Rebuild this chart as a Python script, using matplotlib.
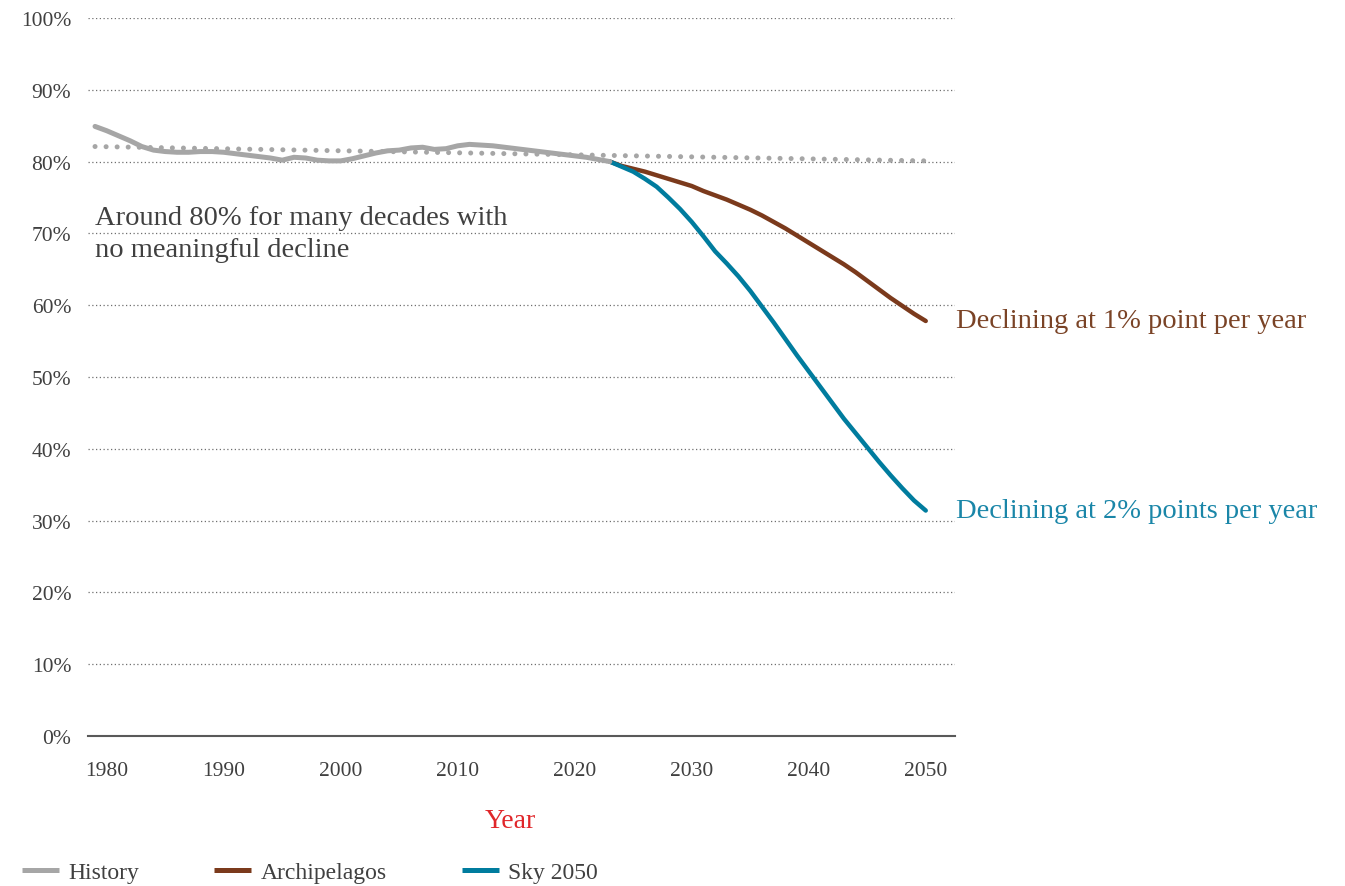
"""Share staying around 80% historically vs. two decline scenarios to 2050."""

import matplotlib.pyplot as plt
from matplotlib.ticker import FuncFormatter

plt.rcParams["font.family"] = ["Liberation Serif", "DejaVu Serif"]

# history
hist_years = list(range(1979, 2024))
hist_vals = [84.9, 84.3, 83.6, 82.9, 82.1, 81.6, 81.4, 81.3, 81.3, 81.4,
             81.4, 81.3, 81.1, 80.9, 80.7, 80.5, 80.2, 80.6, 80.5, 80.2,
             80.1, 80.1, 80.4, 80.8, 81.2, 81.5, 81.6, 81.9, 82.0, 81.7,
             81.8, 82.2, 82.4, 82.3, 82.2, 82.0, 81.8, 81.6, 81.4, 81.2,
             81.0, 80.8, 80.6, 80.3, 80.0]

# flat trend (dotted)
trend_years = [1979, 2050]
trend_vals = [82.1, 80.1]

# scenarios
proj_years = list(range(2023, 2051))
archi_vals = [80.0, 79.4, 79.0, 78.6, 78.1, 77.6, 77.1, 76.6, 75.9, 75.3,
              74.7, 74.0, 73.3, 72.5, 71.6, 70.7, 69.7, 68.7, 67.7, 66.7,
              65.7, 64.6, 63.4, 62.2, 61.0, 59.9, 58.8, 57.8]
sky_vals = [80.0, 79.3, 78.6, 77.6, 76.5, 75.0, 73.4, 71.6, 69.6, 67.5,
            65.8, 64.0, 62.0, 59.8, 57.6, 55.3, 53.0, 50.8, 48.6, 46.4,
            44.2, 42.2, 40.2, 38.2, 36.3, 34.5, 32.8, 31.4]

xticks = [1980, 1990, 2000, 2010, 2020, 2030, 2040, 2050]
yticks = list(range(0, 101, 10))

GREY = "#A6A6A6"
BROWN = "#7B3A1C"
TEAL = "#007C9E"
TEXT = "#404040"

fig = plt.figure(figsize=(13.45, 8.87), dpi=100)
ax = fig.add_axes([88 / 1345, 1 - 737 / 887, 867 / 1345, 718 / 887])

ax.plot(trend_years, trend_vals, color=GREY, lw=3.6,
        linestyle=(0, (0.01, 2.2)), dash_capstyle="round", zorder=2)
ax.plot(hist_years, hist_vals, color=GREY, lw=3.6, label="History",
        solid_capstyle="round", zorder=4)
ax.plot(proj_years, archi_vals, color=BROWN, lw=3.2, label="Archipelagos",
        solid_capstyle="round", zorder=3)
ax.plot(proj_years, sky_vals, color=TEAL, lw=3.2, label="Sky 2050",
        solid_capstyle="round", zorder=3)

ax.set_xlim(1978.4, 2052.5)
ax.set_ylim(0, 100)
ax.set_xticks(xticks)
ax.set_yticks(yticks)
ax.yaxis.set_major_formatter(FuncFormatter(lambda v, _: f"{v:.0f}%"))
ax.tick_params(axis="both", length=0, labelsize=15.5, colors=TEXT)
ax.tick_params(axis="y", pad=12)
ax.tick_params(axis="x", pad=18)

ax.grid(axis="y", color="#6F6F6F", lw=0.9, linestyle=(0, (1, 2)))
ax.grid(axis="x", visible=False)
for side in ["top", "right", "left"]:
    ax.spines[side].set_visible(False)
ax.spines["bottom"].set_color("#595959")
ax.spines["bottom"].set_linewidth(1.5)
ax.spines["bottom"].set_zorder(5)

ax.set_xlabel("Year", color="#E0262A", fontsize=20)
ax.xaxis.set_label_coords((510 - 88) / 867, (737 - 822) / 718)
ax.xaxis.label.set_va("center")

ax.text(0.008, 0.70, "Around 80% for many decades with\nno meaningful decline",
        transform=ax.transAxes, fontsize=20.5, color=TEXT, va="center",
        ha="left", linespacing=1.4)

ax.text(2052.6, archi_vals[-1], "Declining at 1% point per year",
        color="#7A4326", fontsize=20.5, va="center", ha="left", clip_on=False)
ax.text(2052.6, sky_vals[-1], "Declining at 2% points per year",
        color="#1A86A8", fontsize=20.5, va="center", ha="left", clip_on=False)

leg = fig.legend(loc="center left", bbox_to_anchor=(0.0005, 1 - 873 / 887),
                 ncol=3, frameon=False, fontsize=17, handlelength=1.55,
                 handletextpad=0.4, columnspacing=3.2, labelcolor=TEXT)
for line in leg.get_lines():
    line.set_linewidth(3.6)
    line.set_solid_capstyle("butt")

fig.savefig("out.png", dpi=100)
